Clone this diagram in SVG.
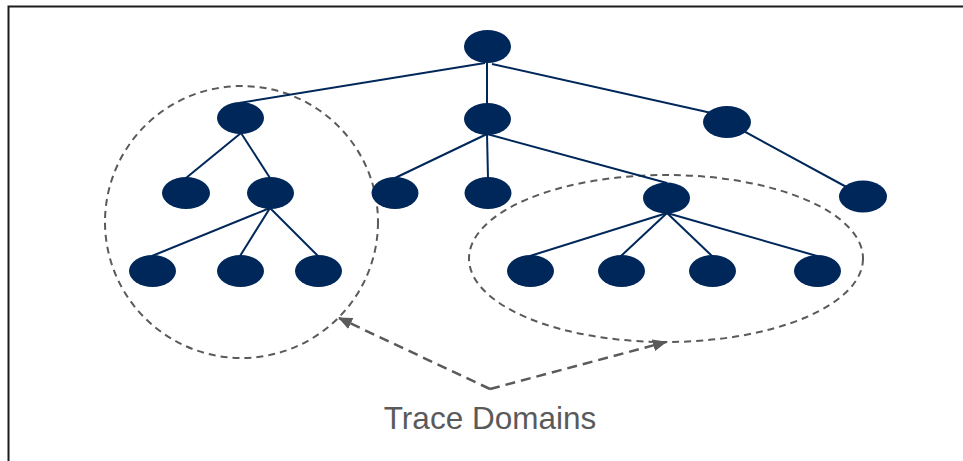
<svg xmlns="http://www.w3.org/2000/svg" width="963" height="461" viewBox="0 0 963 461">
  <style>
    .node { fill: #00275a; }
    .edge { stroke: #00275a; stroke-width: 2; fill: none; }
    .domain { stroke: #5a5a5a; stroke-width: 2; fill: none; stroke-dasharray: 7 5; }
    .pointer { stroke: #5a5a5a; stroke-width: 2.5; fill: none; stroke-dasharray: 10 6; }
    .label { font-family: "Liberation Sans", Arial, sans-serif; font-size: 31.5px; fill: #5a5a5a; }
  </style>
  <defs>
    <marker id="head" markerUnits="userSpaceOnUse" markerWidth="14" markerHeight="12" refX="13" refY="6" orient="auto">
      <path d="M0,0 L14,6 L0,12 z" fill="#5a5a5a"/>
    </marker>
  </defs>

  <rect width="963" height="461" fill="#ffffff"/>
  <!-- frame: top and left edges only -->
  <path d="M8.5,461 V6.5 H963" fill="none" stroke="#1c1c1c" stroke-width="2"/>

  <!-- trace domain outlines -->
  <g id="domains">
    <ellipse class="domain" cx="241.5" cy="222" rx="136.5" ry="136"/>
    <ellipse class="domain" cx="666" cy="258.5" rx="197" ry="83.5"/>
  </g>

  <g id="connectors">
    <path class="edge" d="M485,63 L239,103"/>
    <path class="edge" d="M487,62 L487,105"/>
    <path class="edge" d="M492,64 L716,114"/>
    <path class="edge" d="M241,133 L186,178"/>
    <path class="edge" d="M241,133 L270,178"/>
    <path class="edge" d="M487,134 L395,178"/>
    <path class="edge" d="M487,134 L488,178"/>
    <path class="edge" d="M487,134 L667,183"/>
    <path class="edge" d="M727,122 L863,196"/>
    <path class="edge" d="M270,208 L152,256"/>
    <path class="edge" d="M270,208 L240,256"/>
    <path class="edge" d="M270,208 L318,256"/>
    <path class="edge" d="M667,213 L530,256"/>
    <path class="edge" d="M667,213 L621,256"/>
    <path class="edge" d="M667,213 L712,256"/>
    <path class="edge" d="M667,213 L817,256"/>
    <path class="pointer" d="M490,389 L339,318" marker-end="url(#head)"/>
    <path class="pointer" d="M490,389 L666,342" marker-end="url(#head)"/>
  </g>

  <g id="root"><ellipse class="node" cx="487.5" cy="46.5" rx="23.5" ry="16.5"/></g>
  <g id="n-a"><ellipse class="node" cx="240.5" cy="118" rx="23.5" ry="16"/></g>
  <g id="n-b"><ellipse class="node" cx="487.5" cy="119" rx="23.5" ry="16"/></g>
  <g id="n-c"><ellipse class="node" cx="727" cy="122" rx="24" ry="16"/></g>
  <g id="n-a1"><ellipse class="node" cx="186" cy="193" rx="24" ry="16"/></g>
  <g id="n-a2"><ellipse class="node" cx="270.5" cy="193" rx="23.5" ry="16"/></g>
  <g id="n-b1"><ellipse class="node" cx="395" cy="193" rx="23.5" ry="16"/></g>
  <g id="n-b2"><ellipse class="node" cx="488" cy="193" rx="23.5" ry="16"/></g>
  <g id="n-b3"><ellipse class="node" cx="666.5" cy="198" rx="23.5" ry="15.5"/></g>
  <g id="n-c1"><ellipse class="node" cx="863" cy="196.5" rx="24" ry="16"/></g>
  <g id="n-a2-1"><ellipse class="node" cx="152.5" cy="271" rx="23.5" ry="16"/></g>
  <g id="n-a2-2"><ellipse class="node" cx="240.5" cy="271" rx="23.5" ry="16"/></g>
  <g id="n-a2-3"><ellipse class="node" cx="318.5" cy="271" rx="23.5" ry="16"/></g>
  <g id="n-b3-1"><ellipse class="node" cx="530.5" cy="271" rx="23.5" ry="16"/></g>
  <g id="n-b3-2"><ellipse class="node" cx="621.5" cy="271" rx="23.5" ry="16"/></g>
  <g id="n-b3-3"><ellipse class="node" cx="712.5" cy="271" rx="23.5" ry="16"/></g>
  <g id="n-b3-4"><ellipse class="node" cx="817.5" cy="271" rx="23.5" ry="16"/></g>

  <g id="caption">
    <text class="label" x="490" y="429" text-anchor="middle">Trace Domains</text>
  </g>
</svg>
